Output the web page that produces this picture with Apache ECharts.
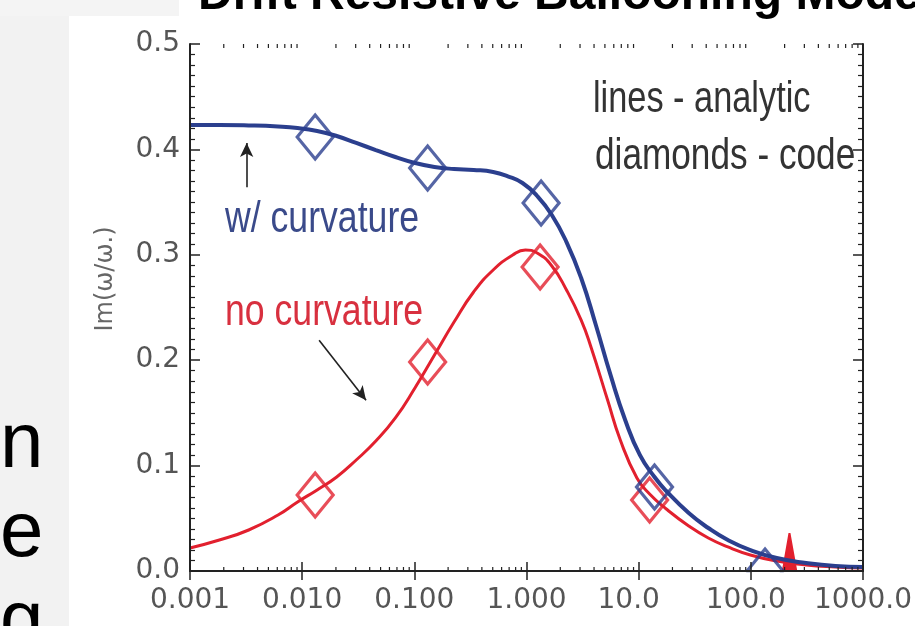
<!DOCTYPE html>
<html><head><meta charset="utf-8">
<script src="https://cdn.jsdelivr.net/npm/echarts@6/dist/echarts.min.js"></script>
<style>html,body{margin:0;padding:0;background:#fff}#c{width:915px;height:626px}</style>
</head><body><div id="c"></div>
<script>
// ---- data ----
const xTicks = [0.001, 0.01, 0.1, 1, 10, 100, 1000];
const xTickLabels = ['0.001', '0.010', '0.100', '1.000', '10.0', '100.0', '1000.0'];
const yTicks = [0, 0.1, 0.2, 0.3, 0.4, 0.5];
const yTickLabels = ['0.0', '0.1', '0.2', '0.3', '0.4', '0.5'];

// analytic curve, with curvature (blue line)
const blueLineX = [0.001, 0.001827, 0.003335, 0.00609, 0.0091, 0.013597, 0.02031, 0.03034, 0.04535, 0.06774, 0.1012, 0.1512, 0.2259, 0.3375, 0.5043, 0.6816, 0.9211, 1.245, 1.682, 2.273, 3.071, 4.151, 5.609, 7.58, 10.24, 13.84, 17.62, 27.95, 41.77, 62.39, 99.0, 170.2, 310.9, 567.5, 1000];
const blueLineY = [0.4231, 0.4231, 0.4227, 0.4217, 0.4203, 0.4175, 0.4127, 0.4061, 0.3994, 0.3928, 0.3871, 0.3833, 0.3814, 0.3805, 0.3786, 0.3745, 0.3681, 0.3558, 0.3378, 0.3121, 0.2780, 0.2334, 0.1860, 0.1433, 0.1101, 0.0892, 0.0759, 0.0550, 0.0408, 0.0294, 0.0199, 0.0123, 0.0076, 0.0047, 0.0038];
// analytic curve, no curvature (red line)
const redLineX = [0.001, 0.001827, 0.003335, 0.00609, 0.0091, 0.013597, 0.02031, 0.03034, 0.04535, 0.06774, 0.1012, 0.1512, 0.2259, 0.3375, 0.5043, 0.7536, 0.978, 1.245, 1.682, 2.273, 3.071, 3.755, 5.283, 6.857, 9.645, 12.52, 17.62, 27.95, 41.77, 62.39, 99.0, 170.2, 310.9, 567.5, 1000];
const redLineY = [0.0218, 0.0294, 0.0389, 0.0531, 0.0655, 0.0769, 0.0892, 0.1053, 0.1233, 0.1452, 0.1736, 0.2049, 0.2362, 0.2647, 0.2856, 0.2998, 0.3046, 0.3017, 0.2894, 0.2666, 0.2381, 0.2125, 0.1622, 0.1243, 0.0882, 0.0730, 0.0588, 0.0427, 0.0313, 0.0228, 0.0152, 0.0095, 0.0057, 0.0038, 0.0028];
// narrow spike on the red analytic curve near x ~ 220
const redSpikeX = [193, 221, 254];
const redSpikeY = [0.0, 0.036, 0.0];
// code results (diamonds)
const blueCodeX = [0.01306, 0.1314, 1.349, 13.84, 133.8];
const blueCodeY = [0.4118, 0.3824, 0.3491, 0.0797, 0.0];
const redCodeX = [0.01306, 0.1314, 1.322, 12.52];
const redCodeY = [0.0721, 0.1983, 0.2884, 0.0674];
// annotation arrows [x0, y0, x1, y1]
const arrowCurv = [0.0032, 0.364, 0.0032, 0.406];
const arrowNoCurv = [0.01416, 0.219, 0.0371, 0.162];

// ---- chart ----
const BLUE = '#2b3f8e', RED = '#e2202e';
const LBL = {color: '#555', fontFamily: 'DejaVu Sans', fontSize: 28};
const SANS = "'Liberation Sans', Arial, sans-serif";
// right padding (px) that pulls some x labels left of their tick, as in the source figure
const xLabelPadRight = [0, 0, 0, 0, 20, 10, 0];

const zip = (a, b) => a.map((v, i) => [v, b[i]]);
const minorX = [];
for (let k = 0; k < xTicks.length - 1; k++) for (let m = 2; m <= 9; m++) minorX.push([xTicks[k] * m, 0.25]);

const xRich = {};
xLabelPadRight.forEach((p, i) => { xRich['p' + i] = {padding: [0, p, 0, 0], color: '#555', fontFamily: 'DejaVu Sans', fontSize: 28}; });
function xFmt(v) {
  for (let i = 0; i < xTicks.length; i++) if (Math.abs(Math.log10(v) - Math.log10(xTicks[i])) < 1e-6) return '{p' + i + '|' + xTickLabels[i] + '}';
  return '';
}
function yFmt(v) {
  for (let i = 0; i < yTicks.length; i++) if (Math.abs(v - yTicks[i]) < 1e-9) return yTickLabels[i];
  return '';
}
// text helper: baseline-positioned text (middle-aligned em box)
function txt(s, x, base, size, fill, family, sx, weight) {
  return {type: 'text', z: 50, x: x, y: base - 0.3465 * size, scaleX: sx || 1,
    style: {text: s, fill: fill, font: (weight ? weight + ' ' : '') + size + 'px ' + family, align: 'left', verticalAlign: 'middle'}};
}

const axLine = {lineStyle: {color: '#222', width: 2}};
const chart = echarts.init(document.getElementById('c'), null, {renderer: 'canvas'});
chart.setOption({
  animation: false,
  backgroundColor: '#fff',
  grid: {left: 190, right: 37, top: 44, bottom: 55, containLabel: false},
  xAxis: [
    {type: 'log', logBase: 10, min: 0.001, max: 1000, position: 'bottom', z: 200,
     axisLine: axLine, axisTick: {inside: true, length: 9, lineStyle: {color: '#222', width: 1.5}},
     axisLabel: Object.assign({margin: 16, formatter: xFmt, rich: xRich}, LBL), splitLine: {show: false}},
    {type: 'log', logBase: 10, min: 0.001, max: 1000, position: 'top', z: 200,
     axisLine: axLine, axisTick: {inside: true, length: 9, lineStyle: {color: '#222', width: 1.5}},
     axisLabel: {show: false}, splitLine: {show: false}}
  ],
  yAxis: [
    {type: 'value', min: 0, max: 0.5, interval: 0.1, position: 'left', z: 200,
     axisLine: Object.assign({show: true}, axLine),
     axisTick: {show: true, inside: true, length: 10, lineStyle: {color: '#222', width: 1.5}},
     minorTick: {show: true, splitNumber: 10, length: 5, lineStyle: {color: '#222', width: 1.2}},
     axisLabel: Object.assign({margin: 10, formatter: yFmt}, LBL), splitLine: {show: false}},
    {type: 'value', min: 0, max: 0.5, interval: 0.1, position: 'right', z: 200,
     axisLine: Object.assign({show: true}, axLine),
     axisTick: {show: true, inside: true, length: 10, lineStyle: {color: '#222', width: 1.5}},
     minorTick: {show: true, splitNumber: 10, length: 5, lineStyle: {color: '#222', width: 1.2}},
     axisLabel: {show: false}, splitLine: {show: false}}
  ],
  series: [
    {type: 'custom', xAxisIndex: 0, yAxisIndex: 0, data: minorX, silent: true, z: 150,
     renderItem: function (params, api) {
       const x = api.coord([api.value(0), 0.25])[0];
       const cs = params.coordSys;
       const st = {stroke: '#222', lineWidth: 1.2};
       return {type: 'group', children: [
         {type: 'line', shape: {x1: x, y1: cs.y + cs.height, x2: x, y2: cs.y + cs.height - 4}, style: st},
         {type: 'line', shape: {x1: x, y1: cs.y, x2: x, y2: cs.y + 4}, style: st}
       ]};
     }},
    {name: 'spike', type: 'line', data: zip(redSpikeX, redSpikeY), symbol: 'none', smooth: false,
     lineStyle: {color: RED, width: 2}, areaStyle: {color: RED, opacity: 1, origin: 'start'}, z: 3},
    {name: 'no curvature (analytic)', type: 'line', data: zip(redLineX, redLineY), smooth: 0.5,
     symbol: 'none', lineStyle: {color: RED, width: 3}, z: 3,
     markLine: {silent: true, symbol: ['none', 'arrow'], symbolSize: [10, 14], label: {show: false},
       lineStyle: {color: '#222', width: 1.6, type: 'solid'},
       data: [
         [{coord: [arrowCurv[0], arrowCurv[1]]}, {coord: [arrowCurv[2], arrowCurv[3]]}],
         [{coord: [arrowNoCurv[0], arrowNoCurv[1]]}, {coord: [arrowNoCurv[2], arrowNoCurv[3]]}]
       ]}},
    {name: 'w/ curvature (analytic)', type: 'line', data: zip(blueLineX, blueLineY), smooth: 0.5,
     symbol: 'none', lineStyle: {color: BLUE, width: 4}, z: 4},
    {name: 'no curvature (code)', type: 'scatter', data: zip(redCodeX, redCodeY),
     symbol: 'diamond', symbolSize: [36, 44],
     itemStyle: {color: 'rgba(0,0,0,0)', borderColor: RED, borderWidth: 3.2}, z: 5},
    {name: 'w/ curvature (code)', type: 'scatter', data: zip(blueCodeX, blueCodeY),
     symbol: 'diamond', symbolSize: [36, 44],
     itemStyle: {color: 'rgba(0,0,0,0)', borderColor: BLUE, borderWidth: 3.2}, z: 6}
  ],
  graphic: [
    {type: 'rect', z: -10, shape: {x: 0, y: 0, width: 69, height: 626}, style: {fill: '#f2f2f2'}},
    {type: 'rect', z: -10, shape: {x: 0, y: 0, width: 179, height: 16}, style: {fill: '#f4f4f4'}},
    {type: 'rect', z: 100, shape: {x: 189, y: 572.2, width: 692, height: 30}, style: {fill: '#fff'}},
    txt('Drift Resistive Ballooning Mode', 198, 12, 48, '#000', "'Liberation Sans', Arial, sans-serif", 1, 'bold'),
    txt('n', 0, 473, 78, '#000', SANS),
    txt('e', 0, 562, 78, '#000', SANS),
    txt('g', 0, 651, 78, '#000', SANS),
    {type: 'text', z: 50, x: 106, y: 279, rotation: Math.PI / 2, style: {text: 'Im(ω/ω.)', fill: '#666',
      font: "24px 'DejaVu Sans', sans-serif", align: 'center', verticalAlign: 'middle'}},
    txt('lines - analytic', 593, 115, 44, '#333', SANS, 0.78),
    txt('diamonds - code', 595, 172, 44, '#333', SANS, 0.80),
    txt('w/ curvature', 225, 235, 44, '#3a4a8a', SANS, 0.81),
    txt('no curvature', 225, 328, 44, '#d8303f', SANS, 0.81)
  ]
});
</script>
</body></html>
